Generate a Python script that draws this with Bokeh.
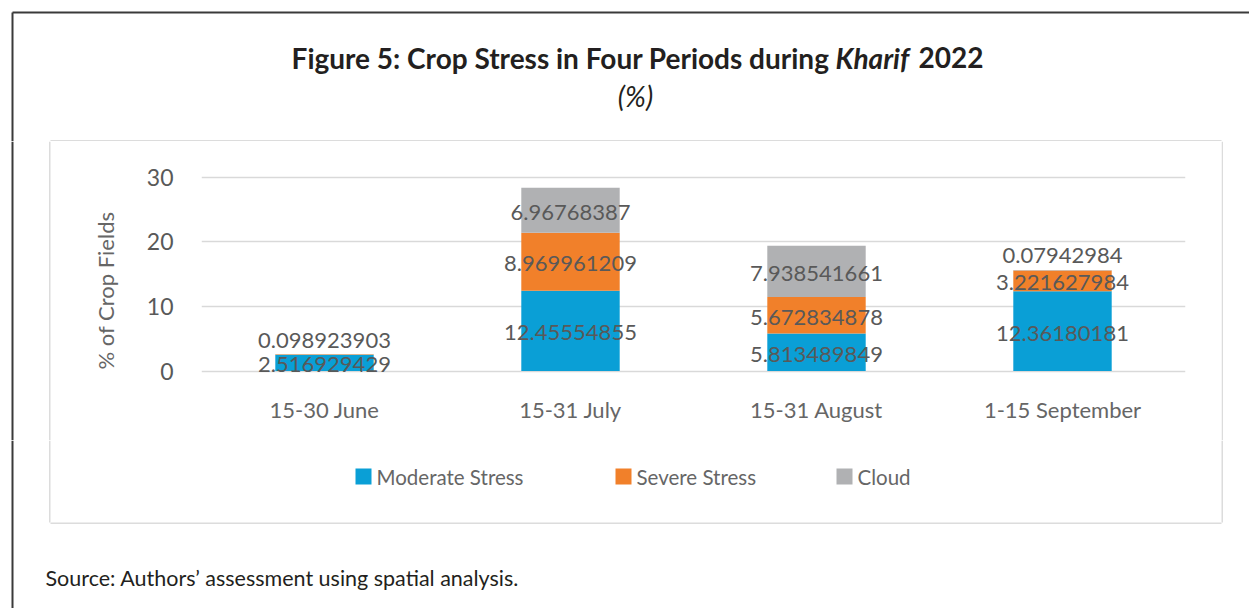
import math
from bokeh.plotting import figure
from bokeh.layouts import column, row
from bokeh.models import ColumnDataSource, FactorRange, Range1d, FixedTicker
from bokeh.core.properties import value
from bokeh.embed import file_html
from bokeh.resources import INLINE

# ---------------- data ----------------
periods = ["15-30 June", "15-31 July", "15-31 August", "1-15 September"]
moderate = [2.516929429, 12.45554855, 5.813489849, 12.36180181]
severe = [0.098923903, 8.969961209, 5.672834878, 3.221627984]
cloud = [0.0, 6.96768387, 7.938541661, 0.07942984]
series_keys = ["moderate", "severe", "cloud"]
series_names = ["Moderate Stress", "Severe Stress", "Cloud"]
y_ticks = [0, 10, 20, 30]

title_main = "Figure 5: Crop Stress in Four Periods during"
title_ital = "Kharif"
title_year = "2022"
subtitle = "(%)"
y_label = "% of Crop Fields"
source_text = "Source: Authors\u2019 assessment using spatial analysis."

# ---------------- style ----------------
colors = ["#0a9fd6", "#f1802a", "#b0b1b3"]
FONT = "Lato"
DARK = "#231f20"
AXIS_TXT = "#666666"
LAB_TXT = "#595959"
FRAME_DARK = "#3a3a3a"
BOX_GREY = "#dcdcdc"

PAGE_W, PAGE_H = 1249, 608
BOX_L, BOX_R, BOX_T, BOX_B = 50, 1221, 141, 522
DARK_X, DARK_Y = 12, 12
CHART_L, CHART_B = 125, 440          # chart figure occupies CHART_L..BOX_R, BOX_T..CHART_B
FR_L, FR_R, FR_T, FR_B = 201, 1185, 164, 377


def canvas_fig(x0, y0, w, h):
    """figure whose frame is the whole canvas; coordinates = page pixels"""
    f = figure(width=w, height=h, x_range=Range1d(x0, x0 + w), y_range=Range1d(y0 + h, y0),
               x_axis_type=None, y_axis_type=None,
               min_border_left=0, min_border_right=0, min_border_top=0, min_border_bottom=0,
               output_backend="svg", toolbar_location=None, tools="")
    f.outline_line_color = None
    f.background_fill_color = "white"
    f.border_fill_color = "white"
    f.frame_align = False
    return f


# ---------- top strip: frame lines + title ----------
top = canvas_fig(0, 0, PAGE_W, BOX_T)
top.segment(x0=[DARK_X, DARK_X], y0=[DARK_Y, DARK_Y], x1=[PAGE_W, DARK_X], y1=[DARK_Y, BOX_T],
            line_color=FRAME_DARK, line_width=2)
top.segment(x0=[BOX_L], y0=[BOX_T - 0.75], x1=[BOX_R], y1=[BOX_T - 0.75],
            line_color=BOX_GREY, line_width=1.5)
TSIZE = "28px"
TY = 57
top.text(x=[829], y=[TY], text=[title_main], text_align="right", text_baseline="middle",
         text_font=value(FONT), text_font_style="bold", text_font_size=TSIZE, text_color=DARK)
top.text(x=[835], y=[TY], text=[title_ital], text_align="left", text_baseline="middle",
         text_font=value(FONT), text_font_style="bold italic", text_font_size=TSIZE, text_color=DARK)
top.text(x=[918], y=[TY], text=[title_year], text_align="left", text_baseline="middle",
         text_font=value(FONT), text_font_style="bold", text_font_size=TSIZE, text_color=DARK)
top.text(x=[635], y=[95], text=[subtitle], text_align="center", text_baseline="middle",
         text_font=value(FONT), text_font_style="italic", text_font_size="28px", text_color=DARK)

# ---------- left / right strips beside the chart ----------
left = canvas_fig(0, BOX_T, CHART_L, CHART_B - BOX_T)
left.segment(x0=[DARK_X, BOX_L - 0.75], y0=[BOX_T, BOX_T], x1=[DARK_X, BOX_L - 0.75], y1=[CHART_B, CHART_B],
             line_color=[FRAME_DARK, BOX_GREY], line_width=[2, 1.5])
left.text(x=[105], y=[290], text=[y_label], angle=math.pi / 2, text_align="center",
          text_baseline="middle", text_font=value(FONT), text_font_size="22px", text_color=AXIS_TXT)
right = canvas_fig(BOX_R, BOX_T, PAGE_W - BOX_R, CHART_B - BOX_T)
right.segment(x0=[BOX_R + 0.75], y0=[BOX_T], x1=[BOX_R + 0.75], y1=[CHART_B],
              line_color=BOX_GREY, line_width=1.5)

# ---------- chart ----------
p = figure(x_range=FactorRange(*periods), y_range=Range1d(-1, 32),
           width=BOX_R - CHART_L, height=CHART_B - BOX_T,
           output_backend="svg", toolbar_location=None, tools="",
           min_border_left=FR_L - CHART_L, min_border_right=BOX_R - FR_R,
           min_border_top=FR_T - BOX_T, min_border_bottom=CHART_B - FR_B)
p.outline_line_color = None
p.background_fill_color = "white"
p.border_fill_color = "white"
p.frame_align = False

src = ColumnDataSource(dict(periods=periods, moderate=moderate, severe=severe, cloud=cloud))
rends = p.vbar_stack(series_keys, x="periods", width=0.4, source=src,
                     fill_color=colors, line_color=None)

# data labels (value in the middle of its segment; tiny segments above the stack)
lx, ly, lt, lo = [], [], [], []
for i, per in enumerate(periods):
    vals = [moderate[i], severe[i], cloud[i]]
    stack_top = sum(vals)
    base = 0.0
    for v in vals:
        if v > 0:
            lx.append(per)
            lt.append(format(v, ".10g"))
            if v < 1:
                ly.append(stack_top)
                lo.append(-14)
            else:
                ly.append(base + v / 2)
                lo.append(2)
        base += v
lab_src = ColumnDataSource(dict(x=lx, y=ly, text=lt, off=lo))
p.text(x="x", y="y", text="text", y_offset="off", source=lab_src,
       text_align="center", text_baseline="middle",
       text_font=value(FONT), text_font_size="22px", text_color=LAB_TXT)

xa = p.xaxis[0]
xa.axis_line_color = None
xa.major_tick_line_color = None
xa.minor_tick_line_color = None
xa.major_tick_out = 0
xa.major_label_text_font = FONT
xa.major_label_text_font_size = "22px"
xa.major_label_text_color = AXIS_TXT
xa.major_label_standoff = 18

ya = p.yaxis[0]
ya.ticker = FixedTicker(ticks=y_ticks)
ya.axis_line_color = None
ya.major_tick_line_color = None
ya.minor_tick_line_color = None
ya.major_tick_out = 0
ya.minor_tick_out = 0
ya.major_label_text_font = FONT
ya.major_label_text_font_size = "23px"
ya.major_label_text_color = LAB_TXT
ya.major_label_standoff = 28

p.xgrid.grid_line_color = None
p.ygrid.ticker = FixedTicker(ticks=y_ticks)
p.ygrid.grid_line_color = "#d9d9d9"
p.ygrid.grid_line_width = 1.5

# ---------- bottom strip: legend, box bottom, source ----------
bottom = canvas_fig(0, CHART_B, PAGE_W, PAGE_H - CHART_B)
bottom.segment(x0=[BOX_L - 0.75, BOX_R + 0.75, BOX_L, DARK_X],
               y0=[CHART_B, CHART_B, BOX_B + 0.75, CHART_B],
               x1=[BOX_L - 0.75, BOX_R + 0.75, BOX_R, DARK_X],
               y1=[BOX_B, BOX_B, BOX_B + 0.75, PAGE_H],
               line_color=[BOX_GREY, BOX_GREY, BOX_GREY, FRAME_DARK], line_width=[1.5, 1.5, 1.5, 2])
LEG_Y, SQ = 476, 16
sq_left = [355, 615, 836]
bottom.rect(x=[s + SQ / 2 for s in sq_left], y=[LEG_Y] * 3, width=SQ, height=SQ,
            fill_color=colors, line_color=None)
bottom.text(x=[s + SQ + 5 for s in sq_left], y=[LEG_Y] * 3, text=series_names,
            text_align="left", text_baseline="middle", text_font=value(FONT),
            text_font_size="20.5px", text_color=AXIS_TXT)
bottom.text(x=[45], y=[577], text=[source_text], text_align="left", text_baseline="middle",
            text_font=value(FONT), text_font_size="21.5px", text_color=DARK)

layout = column(top, row(left, p, right), bottom)
open("out.html", "w").write(file_html(layout, INLINE))
